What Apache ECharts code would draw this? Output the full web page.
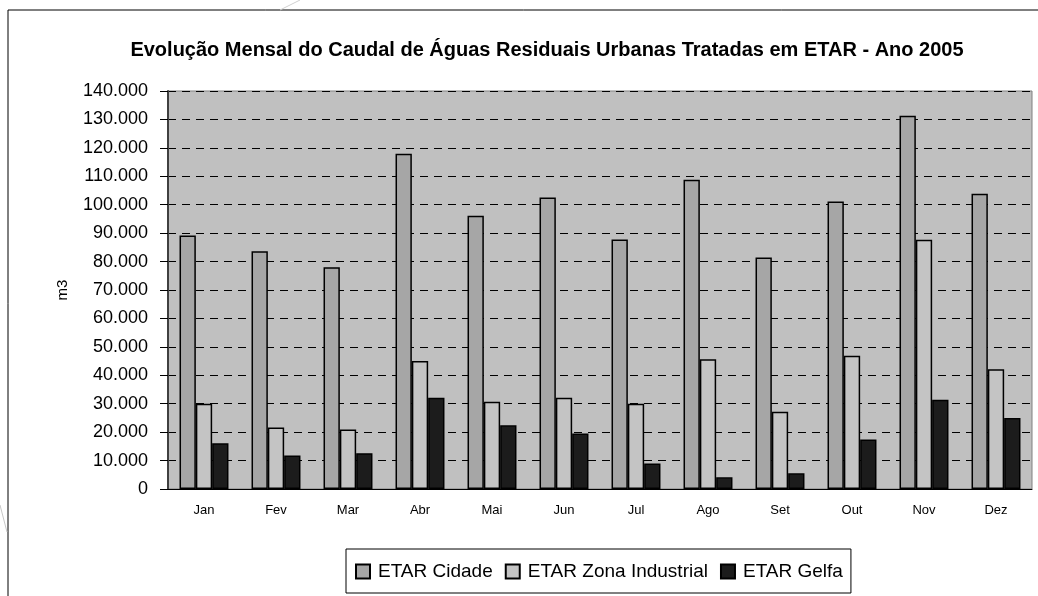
<!DOCTYPE html>
<html>
<head>
<meta charset="utf-8">
<script src="https://cdn.jsdelivr.net/npm/echarts@6/dist/echarts.min.js"></script>
<style>
  html, body { margin: 0; padding: 0; background: #fff; }
  #chart { width: 1038px; height: 596px; }
</style>
</head>
<body>
<div id="chart"></div>
<script>
// dados
var meses = ['Jan', 'Fev', 'Mar', 'Abr', 'Mai', 'Jun', 'Jul', 'Ago', 'Set', 'Out', 'Nov', 'Dez']
var etarCidade = [89200, 83600, 78000, 117900, 96100, 102500, 87800, 108800, 81400, 101100, 131300, 103900]
var etarZonaIndustrial = [30000, 21600, 20900, 45000, 30700, 32100, 30000, 45600, 27200, 46900, 87700, 42100]
var etarGelfa = [16100, 11800, 12600, 32100, 22400, 19500, 9000, 4100, 5500, 17400, 31400, 25000]
var yMax = 140000
var yStep = 10000

function milhares(v) {
    return String(v).replace(/\B(?=(\d{3})+(?!\d))/g, '.')
}

var fonte = '"Liberation Sans", Arial, sans-serif'

function serie(nome, dados, cor) {
    return {
        name: nome,
        type: 'bar',
        data: dados,
        barGap: '0%',
        barCategoryGap: '32%',
        itemStyle: { color: cor, borderColor: '#000', borderWidth: 1.5 }
    }
}

var chart = echarts.init(document.getElementById('chart'))
chart.setOption({
    backgroundColor: '#fff',
    animation: false,
    textStyle: { fontFamily: fonte },
    title: {
        text: 'Evolução Mensal do Caudal de Águas Residuais Urbanas Tratadas em ETAR - Ano 2005',
        left: 542, top: 35, textAlign: 'center',
        textStyle: { fontSize: 20, fontWeight: 'bold', color: '#000', fontFamily: fonte }
    },
    graphic: [
        { type: 'line', shape: { x1: 300, y1: 0, x2: 280, y2: 10 }, style: { stroke: '#d0d0d0', lineWidth: 1 } },
        { type: 'line', shape: { x1: 0, y1: 505, x2: 7, y2: 532 }, style: { stroke: '#c8c8c8', lineWidth: 1 } },
        { type: 'rect', shape: { x: 8, y: 10, width: 1100, height: 700 }, style: { fill: 'none', stroke: '#000', lineWidth: 1 }, z: -1 }
    ],
    legend: {
        left: 346, top: 549,
        padding: [13, 8, 12, 9],
        itemGap: 12,
        itemWidth: 14, itemHeight: 14,
        icon: 'rect',
        borderColor: '#000', borderWidth: 1,
        textStyle: { fontSize: 19, color: '#000', fontFamily: fonte, padding: [0, 0, 0, 3] },
        data: ['ETAR Cidade', 'ETAR Zona Industrial', 'ETAR Gelfa']
    },
    grid: {
        left: 168, right: 6, top: 91, bottom: 107,
        show: true, backgroundColor: '#c0c0c0', borderColor: '#808080', borderWidth: 1
    },
    xAxis: {
        type: 'category',
        data: meses,
        axisLine: { lineStyle: { color: '#000', width: 1 } },
        axisTick: { length: 5, lineStyle: { color: '#000' } },
        axisLabel: { color: '#000', fontSize: 13, margin: 15, fontFamily: fonte }
    },
    yAxis: {
        type: 'value',
        min: 0, max: yMax, interval: yStep,
        name: 'm3', nameLocation: 'middle', nameGap: 98, nameRotate: 90,
        nameTextStyle: { fontSize: 15, color: '#000', fontFamily: fonte },
        axisLine: { show: true, lineStyle: { color: '#404040', width: 2 } },
        axisTick: { show: true, length: 8, lineStyle: { color: '#000' } },
        axisLabel: { color: '#000', fontSize: 18, margin: 20, formatter: milhares, fontFamily: fonte },
        splitLine: { show: true, lineStyle: { color: '#000', type: [8, 6], width: 1 } }
    },
    series: [
        serie('ETAR Cidade', etarCidade, '#a6a6a6'),
        serie('ETAR Zona Industrial', etarZonaIndustrial, '#c4c4c4'),
        serie('ETAR Gelfa', etarGelfa, '#1c1c1c')
    ]
})
</script>
</body>
</html>
